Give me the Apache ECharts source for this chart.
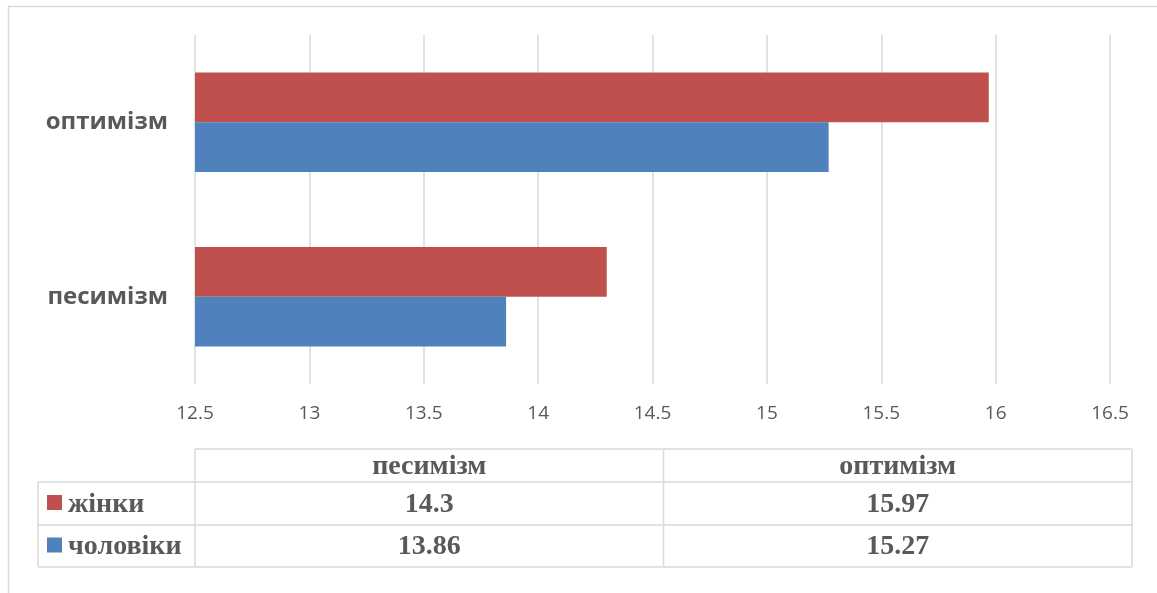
<!DOCTYPE html>
<html>
<head>
<meta charset="utf-8">
<script src="https://cdn.jsdelivr.net/npm/echarts@6/dist/echarts.min.js"></script>
<style>
  html, body { margin: 0; padding: 0; background: #fff; }
  #chart { width: 1157px; height: 593px; }
</style>
</head>
<body>
<div id="chart"></div>
<script>
// Categories (bottom to top on the value chart) and series values
const categories = ['песимізм', 'оптимізм'];
const seriesNames = ['жінки', 'чоловіки'];
const womenValues = [14.3, 15.97];
const menValues = [13.86, 15.27];
const seriesColors = ['#C0504D', '#4F81BD'];

// Value axis range
const axisMin = 12.5;
const axisMax = 16.5;
const axisStep = 0.5;

const textColor = '#595959';
const lineColor = '#D9D9D9';

const chart = echarts.init(document.getElementById('chart'), null, { renderer: 'canvas' });

// Layout of the data table under the plot
const gridLeft = 195, gridRight = 47, gridTop = 35, gridBottom = 209;
const tbl = {
  legendLeft: 38,
  dataLeft: 195,
  right: 1132,
  headerTop: 449,
  rowTops: [482, 525],
  bottom: 567
};

function buildTable() {
  const els = [];
  const colW = (tbl.right - tbl.dataLeft) / categories.length;
  const line = (x1, y1, x2, y2) => ({
    type: 'line',
    shape: { x1, y1, x2, y2 },
    style: { stroke: lineColor, lineWidth: 1.5 },
    silent: true
  });
  // horizontal rules
  els.push(line(tbl.dataLeft, tbl.headerTop, tbl.right, tbl.headerTop));
  tbl.rowTops.forEach(y => els.push(line(tbl.legendLeft, y, tbl.right, y)));
  els.push(line(tbl.legendLeft, tbl.bottom, tbl.right, tbl.bottom));
  // vertical rules
  els.push(line(tbl.legendLeft, tbl.rowTops[0], tbl.legendLeft, tbl.bottom));
  for (let c = 0; c <= categories.length; c++) {
    const x = tbl.dataLeft + c * colW;
    els.push(line(x, tbl.headerTop, x, tbl.bottom));
  }
  const serif = '"Liberation Serif", "DejaVu Serif", serif';
  // header cells
  categories.forEach((cat, c) => {
    els.push({
      type: 'text',
      x: tbl.dataLeft + (c + 0.5) * colW,
      y: (tbl.headerTop + tbl.rowTops[0]) / 2 + 1,
      style: {
        text: cat, fill: textColor, font: 'bold 28px ' + serif,
        textAlign: 'center', textVerticalAlign: 'middle'
      },
      silent: true
    });
  });
  // rows: legend key + values
  const rows = [womenValues, menValues];
  rows.forEach((vals, r) => {
    const top = tbl.rowTops[r];
    const bottom = r + 1 < tbl.rowTops.length ? tbl.rowTops[r + 1] : tbl.bottom;
    const cy = (top + bottom) / 2;
    els.push({
      type: 'rect',
      shape: { x: 47, y: cy - 8.5, width: 15, height: 15 },
      style: { fill: seriesColors[r] },
      silent: true
    });
    els.push({
      type: 'text',
      x: 68, y: cy + 1,
      style: {
        text: seriesNames[r], fill: textColor, font: 'bold 28px ' + serif,
        textAlign: 'left', textVerticalAlign: 'middle'
      },
      silent: true
    });
    vals.forEach((v, c) => {
      els.push({
        type: 'text',
        x: tbl.dataLeft + (c + 0.5) * colW,
        y: cy + 1,
        style: {
          text: String(v), fill: textColor, font: 'bold 28px ' + serif,
          textAlign: 'center', textVerticalAlign: 'middle'
        },
        silent: true
      });
    });
  });
  // outer frame of the chart area
  els.unshift({
    type: 'rect',
    shape: { x: 8.5, y: 6.5, width: 1200, height: 700 },
    style: { fill: 'none', stroke: lineColor, lineWidth: 1.5 },
    silent: true
  });
  return els;
}

const option = {
  animation: false,
  backgroundColor: '#ffffff',
  grid: { left: gridLeft, right: gridRight, top: gridTop, bottom: gridBottom, containLabel: false },
  xAxis: {
    type: 'value',
    min: axisMin,
    max: axisMax,
    interval: axisStep,
    axisLine: { show: false },
    axisTick: { show: false },
    splitLine: { show: true, lineStyle: { color: lineColor, width: 1.5 } },
    axisLabel: {
      color: textColor,
      fontFamily: '"Open Sans", sans-serif',
      fontSize: 19,
      margin: 20
    }
  },
  yAxis: {
    type: 'category',
    data: categories,
    axisLine: { show: false },
    axisTick: { show: false },
    axisLabel: {
      color: textColor,
      fontFamily: '"Open Sans", sans-serif',
      fontWeight: 'bold',
      fontSize: 24,
      margin: 27
    }
  },
  // the first series sits on top within each category band
  series: [
    {
      name: seriesNames[0],
      type: 'bar',
      data: womenValues,
      itemStyle: { color: seriesColors[0] },
      barGap: '0%',
      barCategoryGap: '43%'
    },
    {
      name: seriesNames[1],
      type: 'bar',
      data: menValues,
      itemStyle: { color: seriesColors[1] },
      barGap: '0%',
      barCategoryGap: '43%'
    }
  ],
  graphic: buildTable()
};

chart.setOption(option);
</script>
</body>
</html>
